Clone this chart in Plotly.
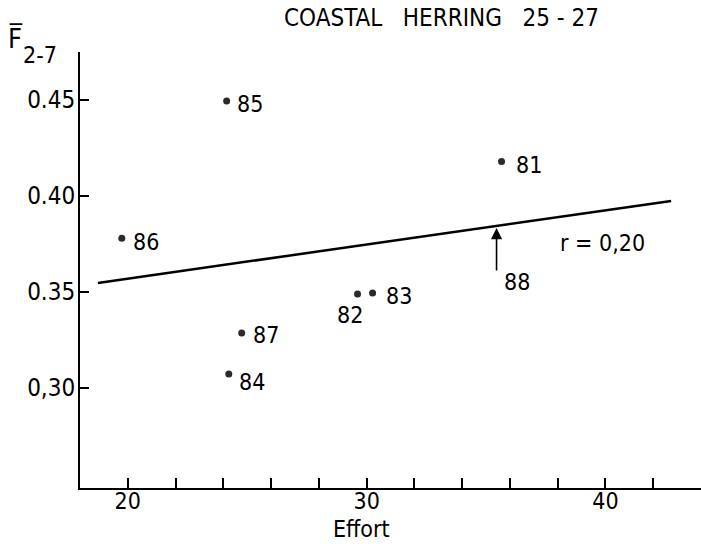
import plotly.graph_objects as go

# Fishing effort vs mean fishing mortality F(2-7), coastal herring, subdivisions 25-27
years = ["81", "82", "83", "84", "85", "86", "87"]
effort = [35.65, 29.62, 30.25, 24.23, 24.14, 19.75, 24.77]
f_mean = [0.418, 0.349, 0.3495, 0.3073, 0.4495, 0.378, 0.3286]

# label offsets (px) for each year label
label_dx = [12, -8, 11, 8, 8, 9, 9]
label_dy = [-4, -21, -3, -8, -3, -4, -2]
label_anchor = ["left", "center", "left", "left", "left", "left", "left"]

# regression line end points
fit_x = [18.75, 42.75]
fit_y = [0.3547, 0.3974]
r_text = "r = 0,20"

# 1988 predicted effort marker
pred_year = "88"
pred_effort = 35.44
pred_arrow_from = 0.3604
pred_arrow_to = 0.3833

x_tickvals = [20, 22, 24, 26, 28, 30, 32, 34, 36, 38, 40, 42, 44]
x_ticktext = ["20", "", "", "", "", "30", "", "", "", "", "40", "", ""]
y_tickvals = [0.30, 0.35, 0.40, 0.45]
y_ticktext = ["0,30", "0.35", "0.40", "0.45"]

FONT = "DejaVu Sans Condensed, DejaVu Sans, sans-serif"

fig = go.Figure()
fig.add_trace(go.Scatter(
    x=fit_x, y=fit_y, mode="lines",
    line=dict(color="black", width=2.5), hoverinfo="skip",
))
fig.add_trace(go.Scatter(
    x=effort, y=f_mean, mode="markers",
    marker=dict(color="#2a2a2a", size=7, line=dict(width=0)),
))

for yr, ex, fy, dx, dy, anc in zip(years, effort, f_mean, label_dx, label_dy, label_anchor):
    fig.add_annotation(
        x=ex, y=fy, text=yr, showarrow=False, xanchor=anc, yanchor="middle",
        xshift=dx, yshift=dy, font=dict(size=23, color="black", family=FONT),
    )

fig.add_annotation(
    x=pred_effort, y=pred_arrow_to, ax=pred_effort, ay=pred_arrow_from,
    xref="x", yref="y", axref="x", ayref="y",
    showarrow=True, arrowhead=2, arrowsize=1.4, arrowwidth=1.6,
    arrowcolor="black", text="",
)
fig.add_annotation(
    x=pred_effort, y=pred_arrow_from, text=pred_year, showarrow=False,
    xanchor="center", yanchor="middle", xshift=20, yshift=-10,
    font=dict(size=23, color="black", family=FONT),
)
fig.add_annotation(
    x=40, y=0.3755, text=r_text, showarrow=False, xanchor="center",
    yanchor="middle", xshift=-3, font=dict(size=23, color="black", family=FONT),
)

# axis titles and chart title
fig.add_annotation(
    xref="paper", yref="paper", x=(361 - 80) / 621, y=(488 - 529) / 436,
    text="Effort", showarrow=False, xanchor="center", yanchor="middle",
    font=dict(size=23, color="black", family=FONT),
)
fig.add_annotation(
    xref="paper", yref="paper", x=(15 - 80) / 621, y=(488 - 38) / 436,
    text="F\u0305", showarrow=False, xanchor="center", yanchor="middle",
    font=dict(size=27, color="black", family=FONT),
)
fig.add_annotation(
    xref="paper", yref="paper", x=(40 - 80) / 621, y=(488 - 55) / 436,
    text="2-7", showarrow=False, xanchor="center", yanchor="middle",
    font=dict(size=23, color="black", family=FONT),
)
fig.add_annotation(
    xref="paper", yref="paper", x=(441 - 80) / 621, y=(488 - 18) / 436,
    text="COASTAL   HERRING   25 - 27", showarrow=False, xanchor="center",
    yanchor="middle", font=dict(size=24, color="black", family=FONT),
)

fig.update_layout(
    width=701, height=544,
    margin=dict(l=80, r=0, t=52, b=56),
    paper_bgcolor="white", plot_bgcolor="white",
    showlegend=False,
    font=dict(family=FONT, size=23, color="black"),
    xaxis=dict(
        range=[18, 44], showgrid=False, zeroline=False,
        showline=True, linecolor="black", linewidth=2,
        tickmode="array", tickvals=x_tickvals, ticktext=x_ticktext,
        ticks="inside", ticklen=10, tickwidth=2, tickcolor="black",
        tickfont=dict(size=23, family=FONT), ticklabelstandoff=-9,
    ),
    yaxis=dict(
        range=[0.2479, 0.475], showgrid=False, zeroline=False,
        showline=True, linecolor="black", linewidth=2,
        tickmode="array", tickvals=y_tickvals, ticktext=y_ticktext,
        ticks="inside", ticklen=9, tickwidth=2, tickcolor="black",
        tickfont=dict(size=24, family=FONT), ticklabelstandoff=-2,
    ),
)

fig.write_html("out.html")
